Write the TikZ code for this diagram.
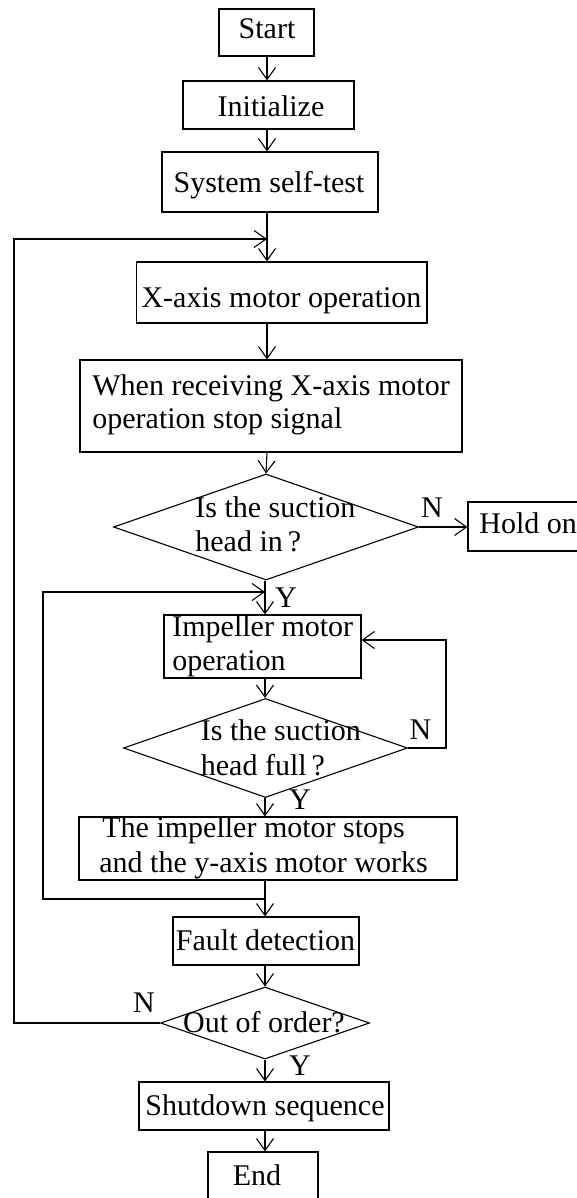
\documentclass[tikz,border=0pt]{standalone}
\usepackage{fontspec}
\setmainfont{Liberation Serif}
\usetikzlibrary{arrows.meta,shapes.geometric}
\begin{document}
\begin{tikzpicture}[x=0.5pt,y=-0.5pt,
  box/.style={draw=black, line width=0.55pt, rectangle, inner sep=0pt},
  dia/.style={draw=black, line width=0.55pt, diamond, inner sep=0pt},
  txt/.style={inner sep=0pt, font=\fontsize{15pt}{17pt}\selectfont},
  conn/.style={draw=black, line width=0.55pt},
  arr/.style={conn, -{Straight Barb[length=6pt,width=8.5pt]}}]
\useasboundingbox (0,0) rectangle (577,1198);
\fill[white] (0,0) rectangle (577,1198);
\clip (0,0) rectangle (577,1198);

% column coordinates
\coordinate (ca) at (267,0);
\coordinate (cb) at (265,0);

% boxes
\node[box, minimum width=47.5pt, minimum height=23.5pt] (start) at (266.5,32.5) {};
\node[box, minimum width=85.5pt, minimum height=24pt] (init) at (268.5,105) {};
\node[box, minimum width=108pt, minimum height=30pt] (sys) at (270,182) {};
\node[box, minimum width=145.25pt, minimum height=30.5pt] (xax) at (281.75,292.5) {};
\node[box, minimum width=191pt, minimum height=46pt] (when) at (271,406) {};
\node[dia, minimum width=152.5pt, minimum height=53pt] (d1) at (266,527) {};
\node[box, minimum width=61pt, minimum height=24.5pt] (hold) at (529,526.5) {};
\node[box, minimum width=98.5pt, minimum height=31.5pt] (imp) at (262.5,646.5) {};
\node[dia, minimum width=142pt, minimum height=49.5pt] (d2) at (265.5,748) {};
\node[box, minimum width=189pt, minimum height=31.5pt] (stops) at (268,848.5) {};
\node[box, minimum width=93pt, minimum height=24pt] (fault) at (266,941) {};
\node[dia, minimum width=104.5pt, minimum height=36pt] (d3) at (265,1023) {};
\node[box, minimum width=125pt, minimum height=24pt] (shut) at (264,1106) {};
\node[box, minimum width=55pt, minimum height=24.5pt] (endb) at (263,1176.5) {};

% texts
\node[txt, anchor=base] (tstart) at (267,39) {Start};
\node[txt, anchor=base] (tinit) at (271,117) {Initialize};
\node[txt, anchor=base] (tsys) at (269,192.5) {System self-test};
\node[txt, anchor=base] (txax) at (281.5,307) {X-axis motor operation};
\node[txt, anchor=base west] (twhenA) at (92,395) {When receiving X-axis motor};
\node[txt, anchor=base west] (twhenB) at (92,428) {operation stop signal};
\node[txt, anchor=base west] (td1A) at (195,517) {Is the suction};
\node[txt, anchor=base west] (td1B) at (195,551) {head in\,?};
\node[txt, anchor=base west] (thold) at (479,533) {Hold on};
\node[txt, anchor=base west] (timpA) at (172,636) {Impeller motor};
\node[txt, anchor=base west] (timpB) at (172,670) {operation};
\node[txt, anchor=base west] (td2A) at (200.5,740) {Is the suction};
\node[txt, anchor=base west] (td2B) at (200.5,775) {head full\,?};
\node[txt, anchor=base west] (tstopsA) at (102,837) {The impeller motor stops};
\node[txt, anchor=base west] (tstopsB) at (99,872) {and the y-axis motor works};
\node[txt, anchor=base] (tfault) at (265.5,950.5) {Fault detection};
\node[txt, anchor=base] (td3) at (264,1032) {Out of order?};
\node[txt, anchor=base] (tshut) at (265,1115) {Shutdown sequence};
\node[txt, anchor=base] (tend) at (257,1185) {End};

% branch labels
\node[txt, anchor=base] (n1) at (432,517) {N};
\node[txt, anchor=base] (y1) at (286,607) {Y};
\node[txt, anchor=base] (n2) at (420.5,739.5) {N};
\node[txt, anchor=base] (y2) at (300,809) {Y};
\node[txt, anchor=base] (n3) at (144,1012) {N};
\node[txt, anchor=base] (y3) at (300,1075) {Y};

% loop coordinates
\coordinate (ent0) at (267,239);
\coordinate (ol) at (14,239);
\coordinate (ent1) at (265,592);
\coordinate (il) at (43,592);
\coordinate (jn) at (265,899);
\coordinate (rl) at (446,640);

% main flow
\draw[arr] (start.south -| ca) -- (init.north -| ca);
\draw[arr] (init.south -| ca) -- (sys.north -| ca);
\draw[arr] (sys.south -| ca) -- (xax.north -| ca);
\draw[arr] (xax.south -| ca) -- (when.north -| ca);
\draw[arr] (when.south -| ca) -- (d1.north);
\draw[arr] (d1.east) -- (hold.west |- d1.east);
\draw[arr] (d1.south -| cb) -- (imp.north -| cb);
\draw[arr] (imp.south -| cb) -- (d2.north -| cb);
\draw[arr] (d2.south -| cb) -- (stops.north -| cb);
\draw[conn] (stops.south -| cb) -- (jn);
\draw[arr] (jn) -- (fault.north -| cb);
\draw[arr] (fault.south -| cb) -- (d3.north -| cb);
\draw[arr] (d3.south -| cb) -- (shut.north -| cb);
\draw[arr] (shut.south -| cb) -- (endb.north -| cb);

% loops
\draw[arr] (d2.east) -| (rl) -- (imp.east |- rl);
\draw[arr] (jn) -| (il) -- (ent1);
\draw[arr] (d3.west) -| (ol) -- (ent0);
\end{tikzpicture}
\end{document}
